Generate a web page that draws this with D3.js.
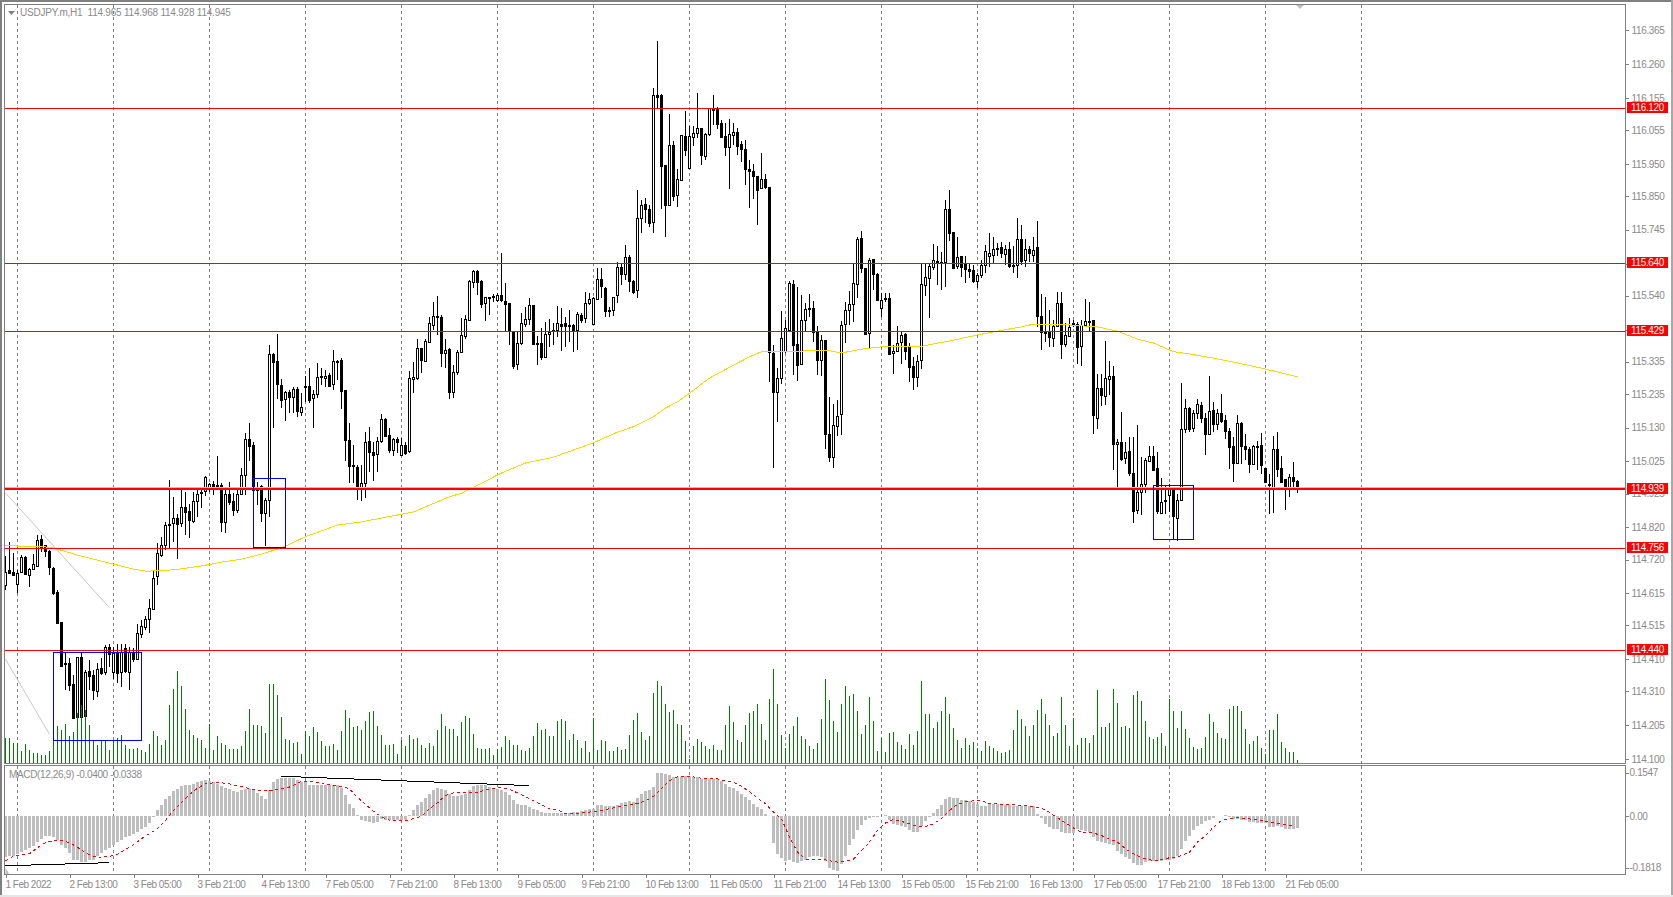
<!DOCTYPE html>
<html lang="en">
  <head>
    <meta charset="UTF-8" />
    <title>USDJPY.m,H1</title>
    <style>
      html, body { margin: 0; padding: 0; background: #fff; overflow: hidden; }
      svg { display: block; }
      text {
        font-family: "Liberation Sans", sans-serif;
        font-size: 10px;
        letter-spacing: -0.35px;
        fill: #8a8a8a;
        white-space: pre;
      }
      .crisp { shape-rendering: crispEdges; }
      .axis path { display: none; }
      .axis line { stroke: #808080; shape-rendering: crispEdges; }
      .timeAxis text { letter-spacing: -0.5px; }
      .title { letter-spacing: -0.22px; }
    </style>
  </head>
  <body>
    <script src="https://cdn.jsdelivr.net/npm/d3@7"></script>
    <script>

    // one hourly candle per slot, 1 Feb 2022 to 21 Feb 2022
    var opens = [
      114.641,114.687,114.681,114.642,114.679,114.727,114.673,114.689,114.700,114.784,
      114.764,114.747,114.695,114.619,114.526,114.398,114.399,114.333,114.228,114.417,
      114.231,114.372,114.361,114.314,114.382,114.368,114.447,114.369,114.430,114.370,
      114.444,114.370,114.431,114.412,114.489,114.511,114.533,114.568,114.666,114.734,
      114.763,114.827,114.832,114.849,114.832,114.882,114.870,114.841,114.903,114.930,
      114.933,114.946,114.955,114.953,114.951,114.835,114.924,114.902,114.874,114.923,
      114.982,115.094,115.075,114.944,114.948,114.864,114.905,115.359,115.336,115.264,
      115.218,115.240,115.224,115.249,115.180,115.259,115.259,115.221,115.234,115.290,
      115.287,115.293,115.264,115.338,115.340,115.247,115.091,115.013,115.009,114.938,
      114.957,115.087,115.054,115.047,115.087,115.157,115.106,115.059,115.095,115.044,
      115.076,115.055,115.280,115.284,115.376,115.338,115.394,115.450,115.473,115.473,
      115.361,115.373,115.239,115.302,115.364,115.415,115.463,115.582,115.617,115.585,
      115.516,115.535,115.534,115.525,115.542,115.525,115.516,115.431,115.326,115.392,
      115.452,115.467,115.511,115.394,115.392,115.349,115.423,115.430,115.431,115.453,
      115.454,115.446,115.449,115.431,115.480,115.470,115.516,115.451,115.529,115.591,
      115.564,115.495,115.495,115.540,115.628,115.605,115.659,115.585,115.556,115.780,
      115.824,115.809,115.770,116.164,116.164,115.945,115.823,116.009,115.851,115.900,
      116.037,115.937,116.034,116.043,116.060,115.975,116.042,116.123,116.123,116.076,
      116.037,116.003,116.038,116.048,116.012,115.995,115.933,115.927,115.911,115.873,
      115.902,115.877,115.363,115.240,115.283,115.369,115.434,115.576,115.389,115.326,
      115.463,115.501,115.501,115.427,115.340,115.401,115.110,115.040,115.137,115.170,
      115.450,115.496,115.514,115.577,115.719,115.627,115.422,115.653,115.608,115.501,
      115.534,115.532,115.363,115.368,115.396,115.421,115.385,115.322,115.289,115.338,
      115.573,115.596,115.630,115.648,115.645,115.644,115.809,115.738,115.630,115.663,
      115.638,115.623,115.620,115.586,115.605,115.634,115.665,115.665,115.683,115.691,
      115.670,115.684,115.635,115.635,115.715,115.649,115.684,115.668,115.691,115.477,
      115.431,115.431,115.408,115.444,115.516,115.390,115.415,115.452,115.452,115.384,
      115.448,115.462,115.465,115.159,115.252,115.228,115.280,115.291,115.078,115.084,
      115.033,115.057,114.990,114.875,114.930,114.954,115.029,115.043,115.003,114.865,
      114.906,114.921,114.938,114.851,114.906,115.127,115.192,115.126,115.174,115.199,
      115.161,115.112,115.186,115.141,115.174,115.153,115.120,115.072,115.020,115.143,
      115.072,115.065,115.017,115.070,115.077,115.003,114.954,114.946,115.065,115.006,
      114.970,114.941,114.975,114.965
    ];

    var highs = [
      114.731,114.775,114.739,114.687,114.734,114.731,114.694,114.737,114.796,114.796,
      114.765,114.751,114.698,114.625,114.527,114.433,114.413,114.361,114.418,114.433,
      114.376,114.407,114.376,114.399,114.413,114.454,114.457,114.449,114.459,114.459,
      114.459,114.449,114.444,114.521,114.532,114.544,114.596,114.687,114.772,114.791,
      114.837,114.967,114.915,114.863,114.936,114.931,114.894,114.931,114.936,114.946,
      114.980,114.959,114.965,115.042,114.957,114.941,114.962,114.926,114.941,115.003,
      115.114,115.143,115.086,114.962,114.951,114.910,115.387,115.363,115.421,115.280,
      115.244,115.247,115.255,115.257,115.237,115.290,115.314,115.247,115.332,115.314,
      115.309,115.299,115.371,115.340,115.345,115.247,115.143,115.076,115.014,115.014,
      115.117,115.133,115.086,115.102,115.172,115.159,115.128,115.097,115.102,115.097,
      115.086,115.307,115.335,115.404,115.379,115.407,115.475,115.521,115.539,115.480,
      115.404,115.376,115.325,115.371,115.470,115.480,115.589,115.620,115.620,115.589,
      115.537,115.537,115.544,115.547,115.672,115.578,115.516,115.431,115.428,115.485,
      115.506,115.532,115.511,115.415,115.439,115.459,115.468,115.454,115.508,115.501,
      115.475,115.496,115.452,115.490,115.485,115.552,115.547,115.537,115.625,115.625,
      115.566,115.506,115.537,115.646,115.641,115.698,115.667,115.589,115.869,115.838,
      115.843,115.822,116.185,116.332,116.167,115.945,116.105,116.022,115.933,116.039,
      116.114,116.066,116.068,116.171,116.060,116.045,116.123,116.164,116.128,116.086,
      116.076,116.088,116.076,116.060,116.022,116.024,115.962,115.948,115.912,115.983,
      115.918,115.877,115.387,115.314,115.493,115.465,115.587,115.589,115.568,115.542,
      115.516,115.544,115.525,115.446,115.418,115.401,115.224,115.204,115.216,115.462,
      115.519,115.555,115.641,115.721,115.741,115.627,115.657,115.655,115.610,115.548,
      115.550,115.548,115.387,115.446,115.428,115.425,115.392,115.351,115.356,115.641,
      115.641,115.641,115.701,115.693,115.677,115.838,115.869,115.739,115.722,115.664,
      115.664,115.641,115.636,115.610,115.651,115.698,115.734,115.722,115.703,115.708,
      115.698,115.708,115.693,115.781,115.760,115.715,115.693,115.722,115.772,115.545,
      115.537,115.496,115.465,115.553,115.551,115.454,115.470,115.465,115.459,115.465,
      115.530,115.520,115.465,115.296,115.296,115.399,115.337,115.323,115.094,115.179,
      115.084,115.101,115.101,115.138,115.039,115.037,115.072,115.072,115.055,114.972,
      114.951,114.954,114.941,114.925,115.269,115.218,115.195,115.184,115.220,115.210,
      115.174,115.290,115.210,115.189,115.234,115.169,115.130,115.101,115.169,115.148,
      115.109,115.070,115.075,115.088,115.114,115.003,114.987,115.103,115.115,115.041,
      114.970,114.985,115.023,114.968
    ];

    var lows = [
      114.625,114.675,114.672,114.615,114.677,114.672,114.635,114.687,114.698,114.744,
      114.727,114.672,114.609,114.524,114.387,114.314,114.312,114.226,114.226,114.226,
      114.226,114.314,114.283,114.294,114.361,114.361,114.387,114.350,114.335,114.325,
      114.366,114.316,114.402,114.410,114.475,114.501,114.492,114.566,114.641,114.729,
      114.751,114.755,114.775,114.723,114.822,114.796,114.786,114.832,114.851,114.879,
      114.917,114.931,114.921,114.941,114.807,114.803,114.889,114.856,114.864,114.921,
      114.921,115.027,114.936,114.889,114.838,114.763,114.853,115.128,115.218,115.190,
      115.152,115.174,115.174,115.164,115.166,115.209,115.208,115.128,115.221,115.262,
      115.255,115.255,115.247,115.278,115.189,115.027,114.959,114.959,114.905,114.903,
      114.910,114.993,114.965,114.993,115.081,115.102,115.052,115.042,115.050,115.042,
      115.045,115.050,115.237,115.278,115.301,115.335,115.392,115.433,115.418,115.319,
      115.314,115.219,115.221,115.293,115.361,115.407,115.461,115.563,115.542,115.503,
      115.462,115.480,115.521,115.521,115.521,115.428,115.387,115.311,115.309,115.387,
      115.444,115.449,115.390,115.325,115.340,115.345,115.382,115.387,115.411,115.368,
      115.382,115.397,115.366,115.371,115.454,115.454,115.511,115.449,115.527,115.532,
      115.475,115.475,115.477,115.516,115.573,115.589,115.553,115.544,115.534,115.736,
      115.765,115.753,115.736,116.123,115.810,115.724,115.821,115.835,115.817,115.897,
      115.974,115.935,116.005,116.029,115.946,115.962,116.037,116.071,116.058,116.029,
      115.974,115.872,116.009,115.977,115.957,115.884,115.814,115.841,115.760,115.871,
      115.871,115.273,115.003,115.149,115.266,115.363,115.428,115.294,115.276,115.324,
      115.428,115.475,115.397,115.294,115.289,115.064,115.024,115.003,115.104,115.107,
      115.394,115.449,115.459,115.534,115.612,115.420,115.373,115.558,115.525,115.475,
      115.522,115.356,115.297,115.366,115.328,115.340,115.273,115.247,115.255,115.311,
      115.539,115.470,115.620,115.573,115.558,115.568,115.711,115.625,115.622,115.597,
      115.581,115.594,115.579,115.563,115.594,115.612,115.628,115.639,115.662,115.656,
      115.636,115.625,115.610,115.594,115.636,115.630,115.644,115.646,115.444,115.371,
      115.397,115.382,115.382,115.442,115.343,115.382,115.411,115.444,115.328,115.320,
      115.444,115.428,115.110,115.126,115.198,115.201,115.232,114.998,114.941,115.027,
      115.018,114.979,114.834,114.863,114.858,114.927,115.023,114.995,114.863,114.863,
      114.863,114.868,114.782,114.778,114.904,115.112,115.117,115.117,115.158,115.145,
      115.044,115.106,115.115,115.122,115.145,115.094,115.001,114.961,115.018,115.018,
      115.029,114.989,115.013,114.998,114.987,114.958,114.863,114.865,114.977,114.961,
      114.873,114.915,114.935,114.928
    ];

    var closes = [
      114.682,114.679,114.673,114.677,114.727,114.674,114.692,114.705,114.780,114.755,
      114.744,114.698,114.617,114.523,114.390,114.394,114.330,114.228,114.416,114.231,
      114.369,114.358,114.314,114.381,114.368,114.447,114.424,114.429,114.369,114.433,
      114.371,114.433,114.411,114.493,114.513,114.535,114.568,114.664,114.739,114.764,
      114.826,114.831,114.849,114.829,114.882,114.866,114.841,114.903,114.925,114.926,
      114.975,114.954,114.947,114.949,114.835,114.923,114.900,114.874,114.923,114.982,
      115.094,115.071,114.936,114.936,114.864,114.905,115.358,115.335,115.264,115.218,
      115.240,115.223,115.249,115.180,115.195,115.255,115.216,115.233,115.286,115.286,
      115.292,115.259,115.337,115.336,115.245,115.091,115.011,115.009,114.942,114.957,
      115.085,115.052,115.045,115.087,115.156,115.104,115.060,115.094,115.086,115.075,
      115.052,115.283,115.286,115.376,115.338,115.399,115.454,115.477,115.477,115.361,
      115.371,115.239,115.302,115.364,115.417,115.467,115.585,115.617,115.582,115.515,
      115.535,115.532,115.538,115.542,115.525,115.515,115.431,115.322,115.392,115.454,
      115.467,115.510,115.391,115.390,115.350,115.421,115.428,115.433,115.454,115.446,
      115.446,115.449,115.430,115.482,115.464,115.516,115.529,115.532,115.591,115.568,
      115.493,115.492,115.535,115.628,115.605,115.659,115.584,115.550,115.781,115.821,
      115.807,115.767,116.164,116.159,115.943,115.820,116.008,115.851,115.902,116.039,
      115.993,116.037,116.045,116.060,115.975,116.042,116.123,116.117,116.074,116.034,
      116.003,116.042,116.048,116.006,115.995,115.934,115.926,115.910,115.869,115.902,
      115.876,115.363,115.242,115.283,115.408,115.439,115.579,115.387,115.325,115.464,
      115.498,115.498,115.425,115.340,115.401,115.110,115.037,115.139,115.167,115.448,
      115.495,115.515,115.579,115.716,115.625,115.422,115.650,115.605,115.527,115.526,
      115.530,115.359,115.369,115.394,115.418,115.369,115.320,115.289,115.338,115.575,
      115.597,115.632,115.651,115.641,115.641,115.809,115.733,115.627,115.659,115.628,
      115.623,115.618,115.587,115.605,115.635,115.678,115.674,115.685,115.687,115.672,
      115.684,115.630,115.631,115.715,115.648,115.684,115.672,115.682,115.475,115.428,
      115.426,115.411,115.446,115.516,115.390,115.417,115.442,115.456,115.382,115.449,
      115.461,115.459,115.169,115.252,115.229,115.283,115.289,115.079,115.084,115.031,
      115.053,114.989,114.873,114.931,114.956,115.029,115.043,114.998,114.868,114.900,
      114.902,114.940,114.853,114.906,115.127,115.192,115.127,115.174,115.202,115.160,
      115.110,115.182,115.141,115.174,115.150,115.120,115.070,115.020,115.143,115.070,
      115.063,115.018,115.072,115.074,115.016,114.961,114.951,115.065,115.003,114.963,
      114.941,114.975,114.964,114.945
    ];

    // tick volume
    var volumes = [
      25,25,20,20,12,19,13,10,10,8,8,12,27,37,33,39,27,31,50,58,
      53,38,23,18,23,23,13,23,25,28,18,14,14,15,13,11,19,32,27,18,
      23,58,74,92,77,54,33,28,25,23,15,39,13,27,20,18,14,14,14,17,
      32,54,38,38,37,30,79,79,68,46,24,23,20,21,9,32,27,36,31,22,
      17,17,19,13,32,53,45,36,37,33,42,51,52,37,28,18,18,19,9,23,
      17,28,24,25,18,15,20,17,33,49,37,34,34,27,41,47,45,29,15,14,
      14,15,8,14,16,27,23,18,18,13,12,15,27,40,33,34,27,27,42,
      44,42,23,29,23,15,22,11,45,13,23,22,12,12,16,13,14,28,43,50,
      31,23,27,70,82,77,59,51,53,39,38,22,4,17,24,21,17,14,18,13,
      13,38,57,41,23,21,38,50,52,59,39,23,64,94,59,28,15,29,37,46,
      27,24,17,14,20,44,84,63,42,31,59,77,67,69,52,29,38,66,42,12,
      25,11,30,31,21,18,14,29,18,32,82,49,49,35,41,52,66,49,35,23,
      15,25,18,21,15,12,22,17,15,12,10,11,13,33,53,44,37,27,38,53,
      64,49,38,27,30,66,38,17,45,18,25,25,20,28,73,36,36,40,74,60,
      36,37,35,68,72,62,42,26,24,26,30,17,64,52,35,52,34,25,16,14,
      15,26,49,41,30,25,24,54,57,57,52,34,19,22,27,15,9,33,33,49,
      21,15,11,11,3
    ];

    var macdValues = [
      -.144,-.141,-.139,-.135,-.126,-.118,-.112,-.104,-.091,-.080,
      -.071,-.071,-.073,-.085,-.102,-.113,-.130,-.153,-.154,-.162,
      -.160,-.156,-.153,-.141,-.129,-.120,-.112,-.100,-.089,-.083,
      -.073,-.070,-.061,-.056,-.046,-.038,-.022,-.002,.021,.041,
      .060,.072,.089,.096,.106,.110,.110,.113,.122,.124,
      .128,.126,.122,.116,.108,.100,.098,.089,.087,.092,
      .098,.098,.092,.084,.072,.063,.095,.120,.131,.136,
      .137,.137,.136,.129,.122,.120,.110,.110,.110,.110,
      .110,.110,.112,.110,.100,.074,.045,.030,.004,-.014,
      -.018,-.020,-.024,-.020,-.011,-.012,-.014,-.014,-.014,-.014,
      -.014,.004,.021,.039,.051,.065,.080,.095,.100,.098,
      .095,.080,.072,.072,.074,.080,.092,.108,.112,.112,
      .110,.104,.098,.096,.092,.086,.074,.057,.045,.042,
      .041,.033,.027,.024,.015,.013,.012,.012,.012,
      .012,.012,.012,.014,.015,.019,.023,.025,.027,.039,
      .042,.037,.036,.036,.042,.048,.052,.053,.051,.065,
      .078,.089,.093,.105,.155,.155,.150,.146,.138,.140,
      .140,.143,.140,.140,.138,.132,.131,.131,.131,.131,
      .126,.114,.105,.099,.090,.078,.067,.057,.045,.033,
      .025,.010,.001,-.096,-.133,-.147,-.157,-.154,-.163,-.166,
      -.159,-.153,-.145,-.141,-.141,-.145,-.157,-.184,-.190,-.192,
      -.169,-.139,-.103,-.080,-.050,-.032,-.014,-.005,-.002,-.002,
      .001,.004,-.012,-.026,-.029,-.034,-.038,-.048,-.056,-.056,
      -.034,-.018,-.002,.012,.027,.039,.063,.067,.065,.064,
      .059,.057,.055,.051,.045,.038,.036,.043,.045,.045,
      .043,.042,.039,.038,.038,.037,.037,.036,.036,.010,
      -.006,-.026,-.038,-.044,-.046,-.056,-.058,-.059,-.059,-.046,
      -.050,-.052,-.056,-.074,-.086,-.091,-.094,-.098,-.103,-.121,
      -.135,-.145,-.151,-.166,-.171,-.171,-.163,-.157,-.157,-.157,
      -.157,-.154,-.154,-.151,-.139,-.115,-.086,-.071,-.050,-.034,
      -.026,-.018,-.012,-.005,0,.002,.004,-.002,-.008,-.011,
      -.012,-.014,-.020,-.020,-.023,-.024,-.024,-.036,-.036,-.034,
      -.038,-.044,-.045,-.045,-.040
    ];

    // signal line, read at every second bar
    var signalValues = [
      -.157,-.141,-.136,-.132,-.111,-.093,-.086,-.086,-.093,-.110,
      -.129,-.141,-.145,-.142,-.134,-.117,-.100,-.079,-.061,-.044,
      -.014,.021,.048,.077,.100,.115,.119,.119,.115,.108,
      .102,.095,.090,.091,.096,.098,.110,.125,.125,.121,
      .116,.109,.106,.098,.067,.043,.018,-.002,-.013,-.015,
      -.015,-.008,0,.027,.048,.074,.083,.084,.083,.085,
      .093,.100,.102,.096,.083,.070,.056,.041,.027,.024,
      .010,.010,.012,.015,.019,.024,.030,.036,.042,.045,
      .055,.071,.099,.126,.140,.143,.140,.135,.133,.133,
      .126,.121,.107,.087,.065,.045,.015,-.008,-.074,-.127,
      -.151,-.151,-.151,-.157,-.162,-.160,-.151,-.121,-.091,-.050,
      -.023,-.011,-.018,-.026,-.036,-.036,-.026,-.008,.021,.043,
      .051,.055,.055,.045,.044,.042,.042,.039,.037,.031,
      .024,.004,-.014,-.032,-.050,-.058,-.059,-.068,-.080,-.091,
      -.115,-.133,-.147,-.154,-.157,-.149,-.145,-.139,-.127,-.091,
      -.068,-.038,-.014,-.008,-.005,-.007,-.011,-.014,-.020,-.026,
      -.030,-.034
    ];

    // yellow moving average, read at the bars where it bends
    var maBars = [0,3,8,12,18,23,28,32,35,39,44,49,54,59,64,69,75,83,89,97,102,111,114,118,124,130,137,147,153,157,162,165,168,171,176,182,186,189,195,205,209,214,219,229,237,243,248,254,257,266,273,278,283,287,292,296,302,308,314,323];
    var maValues = [114.765,114.762,114.762,114.756,114.734,114.718,114.703,114.690,114.684,114.685,114.691,114.700,114.712,114.721,114.737,114.756,114.791,114.827,114.837,114.856,114.868,114.915,114.926,114.951,114.989,115.020,115.038,115.083,115.116,115.133,115.164,115.191,115.210,115.237,115.284,115.324,115.350,115.366,115.366,115.371,115.362,115.374,115.381,115.383,115.402,115.418,115.430,115.443,115.452,115.449,115.443,115.430,115.405,115.393,115.366,115.359,115.346,115.331,115.315,115.288];

    var priceTicks = [116.365,116.260,116.155,116.055,115.950,115.850,115.745,115.640,115.540,115.435,115.335,115.235,115.130,115.025,114.925,114.820,114.720,114.615,114.515,114.410,114.310,114.205,114.100];
    var levels = [116.120,115.640,115.429,114.939,114.756,114.440];
    var levelLabels = ["116.120","115.640","115.429","114.939","114.756","114.440"];
    var heavyLevel = 114.939;
    var bidPrice = 114.945;

    var macdTicks = [0.1547,0,-0.1818];
    var macdTickLabels = ["0.1547","0.00","-0.1818"];

    var timeBars = [0,16,32,48,64,80,96,112,128,144,160,176,192,208,224,240,256,272,288,304,320];
    var timeLabels = ["1 Feb 2022","2 Feb 13:00","3 Feb 05:00","3 Feb 21:00","4 Feb 13:00","7 Feb 05:00","7 Feb 21:00","8 Feb 13:00","9 Feb 05:00","9 Feb 21:00","10 Feb 13:00","11 Feb 05:00","11 Feb 21:00","14 Feb 13:00","15 Feb 05:00","15 Feb 21:00","16 Feb 13:00","17 Feb 05:00","17 Feb 21:00","18 Feb 13:00","21 Feb 05:00"];
    var gridBars = [3,27,51,75,99,123,147,171,195,219,243,267,291,315,339];

    // drawn objects: bar from, bar to, value from, value to
    var boxes = [[12,34,114.431,114.158],[62,70,114.972,114.758],[287,297,114.950,114.783]];
    var greyLines = [[0,26,114.927,114.570],[0,11,114.410,114.177]];
    var macdLines = [[0,26,-.175,-.164],[69,131,.142,.109]];

    var w = 1673,
        h = 897,
        left = 4.5,
        right = 1625.5,
        mainBottom = 763.5,
        macdTop = 765.5,
        macdBottom = 874.5;

    var svg = d3.select("body").append("svg")
      .attr("width", w)
      .attr("height", h);

    // scales
    var xScale = d3.scaleLinear().domain([0, 323]).range([5.5, 1297.5]);
    var yScale = d3.scaleLinear().domain([114.100, 116.365]).range([759, 30.3]);
    // the red levels sit a touch off the candle scale in the screenshot
    var levelScale = d3.scaleLinear().domain([114.440, 116.120]).range([650.5, 108.5]);
    var volScale = d3.scaleLinear().domain([0, 100]).range([763, 663]);
    var macdScale = d3.scaleLinear().domain([-0.1818, 0.1547]).range([867.7, 772.7]);

    var bars = d3.range(opens.length);

    // window edges
    svg.append("g").attr("class", "crisp").selectAll("rect")
      .data([[0, 0, w, 2, "#808080"], [0, 0, 2, h, "#808080"], [w - 2, 0, 2, h, "#a8a8a8"], [0, h - 2, w, 2, "#e6e6e6"]])
      .enter().append("rect")
      .attr("x", function(d) { return d[0]; })
      .attr("y", function(d) { return d[1]; })
      .attr("width", function(d) { return d[2]; })
      .attr("height", function(d) { return d[3]; })
      .attr("fill", function(d) { return d[4]; });

    // grid
    var grid = svg.append("g").attr("class", "crisp")
      .attr("stroke", "#808080")
      .attr("stroke-dasharray", "3,3");
    grid.selectAll(".gridMain").data(gridBars).enter().append("line")
      .attr("class", "gridMain")
      .attr("x1", function(d) { return Math.floor(xScale(d)) + 0.5; })
      .attr("x2", function(d) { return Math.floor(xScale(d)) + 0.5; })
      .attr("y1", 5)
      .attr("y2", mainBottom);
    grid.selectAll(".gridMacd").data(gridBars).enter().append("line")
      .attr("class", "gridMacd")
      .attr("x1", function(d) { return Math.floor(xScale(d)) + 0.5; })
      .attr("x2", function(d) { return Math.floor(xScale(d)) + 0.5; })
      .attr("y1", macdTop)
      .attr("y2", macdBottom - 4);

    // macd histogram
    svg.append("g").attr("class", "crisp").selectAll("rect")
      .data(bars).enter().append("rect")
      .attr("x", function(d) { return xScale(d) - 1.5; })
      .attr("y", function(d) { return Math.min(macdScale(0), macdScale(macdValues[d])); })
      .attr("width", 3)
      .attr("height", function(d) { return Math.abs(macdScale(macdValues[d]) - macdScale(0)); })
      .attr("fill", "#bebebe");

    // little grey corner left by the trend line at the bottom of the macd pane
    svg.append("path")
      .attr("d", "M" + xScale(0) + "," + macdScale(-0.1818) + "L" + xScale(1) + "," + macdBottom + "L" + xScale(0) + "," + macdBottom + "Z")
      .attr("fill", "#bebebe");

    // signal
    var signalLine = d3.line()
      .x(function(d, i) { return xScale(i * 2); })
      .y(function(d) { return macdScale(d); });
    svg.append("path")
      .datum(signalValues)
      .attr("class", "crisp")
      .attr("d", signalLine)
      .attr("fill", "none")
      .attr("stroke", "#ff0000")
      .attr("stroke-dasharray", "3,3");

    svg.append("g").attr("class", "crisp").selectAll("line")
      .data(macdLines).enter().append("line")
      .attr("x1", function(d) { return xScale(d[0]); })
      .attr("x2", function(d) { return xScale(d[1]); })
      .attr("y1", function(d) { return macdScale(d[2]); })
      .attr("y2", function(d) { return macdScale(d[3]); })
      .attr("stroke", "#000");

    // grey trend lines
    svg.append("g").selectAll("line")
      .data(greyLines).enter().append("line")
      .attr("x1", function(d) { return xScale(d[0]); })
      .attr("x2", function(d) { return xScale(d[1]); })
      .attr("y1", function(d) { return yScale(d[2]); })
      .attr("y2", function(d) { return yScale(d[3]); })
      .attr("stroke", "#c8c8c8");

    // candles
    var candles = svg.append("g").attr("class", "crisp");
    candles.selectAll("line").data(bars).enter().append("line")
      .attr("x1", function(d) { return xScale(d); })
      .attr("x2", function(d) { return xScale(d); })
      .attr("y1", function(d) { return yScale(highs[d]); })
      .attr("y2", function(d) { return yScale(lows[d]); })
      .attr("stroke", "#000");
    candles.selectAll("rect").data(bars).enter().append("rect")
      .attr("x", function(d) { return xScale(d) - 1; })
      .attr("y", function(d) { return Math.round(yScale(Math.max(opens[d], closes[d]))) + 0.5; })
      .attr("width", 2)
      .attr("height", function(d) { return Math.max(1, Math.round(Math.abs(yScale(opens[d]) - yScale(closes[d])))); })
      .attr("fill", function(d) { return closes[d] >= opens[d] ? "#fff" : "#000"; })
      .attr("stroke", "#000");

    // volume
    svg.append("g").attr("class", "crisp").selectAll("line")
      .data(bars).enter().append("line")
      .attr("x1", function(d) { return xScale(d); })
      .attr("x2", function(d) { return xScale(d); })
      .attr("y1", volScale(0))
      .attr("y2", function(d) { return volScale(volumes[d]); })
      .attr("stroke", "#008000");

    // moving average
    var maLine = d3.line()
      .x(function(d, i) { return xScale(maBars[i]); })
      .y(function(d) { return yScale(d); });
    svg.append("path")
      .datum(maValues)
      .attr("class", "crisp")
      .attr("d", maLine)
      .attr("fill", "none")
      .attr("stroke", "#ffd700");

    // snap a level to the pixel grid, the heavy line needs a whole number
    function levelY(d) {
      return Math.floor(levelScale(d)) + (d == heavyLevel ? 0 : 0.5);
    }

    // horizontal levels
    svg.append("line")
      .attr("class", "crisp")
      .attr("x1", left)
      .attr("x2", right)
      .attr("y1", Math.floor(levelScale(heavyLevel)) - 1.5)
      .attr("y2", Math.floor(levelScale(heavyLevel)) - 1.5)
      .attr("stroke", "#c0c0c0");
    svg.append("g").attr("class", "crisp").selectAll("line")
      .data(levels).enter().append("line")
      .attr("x1", left)
      .attr("x2", right)
      .attr("y1", levelY)
      .attr("y2", levelY)
      .attr("stroke", "#ff0000")
      .attr("stroke-width", function(d) { return d == heavyLevel ? 2 : 1; });

    // blue boxes
    svg.append("g").attr("class", "crisp").selectAll("rect")
      .data(boxes).enter().append("rect")
      .attr("x", function(d) { return xScale(d[0]); })
      .attr("y", function(d) { return yScale(d[2]); })
      .attr("width", function(d) { return xScale(d[1]) - xScale(d[0]); })
      .attr("height", function(d) { return yScale(d[3]) - yScale(d[2]); })
      .attr("fill", "none")
      .attr("stroke", "#0000ff");

    // pane frames
    svg.append("g").attr("class", "crisp").selectAll("rect")
      .data([[4.5, mainBottom], [macdTop, macdBottom]])
      .enter().append("rect")
      .attr("x", left)
      .attr("y", function(d) { return d[0]; })
      .attr("width", right - left)
      .attr("height", function(d) { return d[1] - d[0]; })
      .attr("fill", "none")
      .attr("stroke", "#808080");

    // price axis
    var priceAxis = d3.axisRight(yScale)
      .tickValues(priceTicks)
      .tickSize(3)
      .tickPadding(3)
      .tickFormat(d3.format(".3f"));
    svg.append("g")
      .attr("class", "axis")
      .attr("transform", "translate(" + right + ",0)")
      .call(priceAxis);

    // macd axis
    var macdAxis = d3.axisRight(macdScale)
      .tickValues(macdTicks)
      .tickSize(3)
      .tickPadding(1)
      .tickFormat(function(d, i) { return macdTickLabels[i]; });
    svg.append("g")
      .attr("class", "axis")
      .attr("transform", "translate(" + right + ",0)")
      .call(macdAxis);

    // time axis
    var timeAxis = d3.axisBottom(xScale)
      .tickValues(timeBars)
      .tickSize(3)
      .tickPadding(3)
      .tickFormat(function(d, i) { return timeLabels[i]; });
    svg.append("g")
      .attr("class", "axis timeAxis")
      .attr("transform", "translate(0," + macdBottom + ")")
      .call(timeAxis);
    svg.selectAll(".timeAxis text").attr("text-anchor", "start").attr("x", -0.5);

    // level tags on the price axis
    var tags = svg.append("g").selectAll("g")
      .data(levels).enter().append("g")
      .attr("transform", function(d) { return "translate(0," + Math.floor(levelScale(d)) + ")"; });
    tags.append("rect")
      .attr("class", "crisp")
      .attr("x", 1627)
      .attr("y", -6)
      .attr("width", 41)
      .attr("height", 11)
      .attr("fill", "#ff0000");
    tags.append("text")
      .attr("x", 1647.5)
      .attr("y", 3)
      .attr("text-anchor", "middle")
      .style("fill", "#fff")
      .text(function(d, i) { return levelLabels[i]; });

    // headings
    svg.append("path")
      .attr("d", "M8,11L15,11L11.5,15Z")
      .attr("fill", "#808080");
    svg.append("text")
      .attr("class", "title")
      .attr("x", 20)
      .attr("y", 16)
      .text("USDJPY.m,H1  114.965 114.968 114.928 114.945");
    svg.append("text")
      .attr("x", 9)
      .attr("y", 778)
      .text("MACD(12,26,9) -0.0400 -0.0338");

    // chart shift marker
    svg.append("path")
      .attr("d", "M1296,5L1304,5L1300,9Z")
      .attr("fill", "#c0c0c0");

    </script>
  </body>
</html>
